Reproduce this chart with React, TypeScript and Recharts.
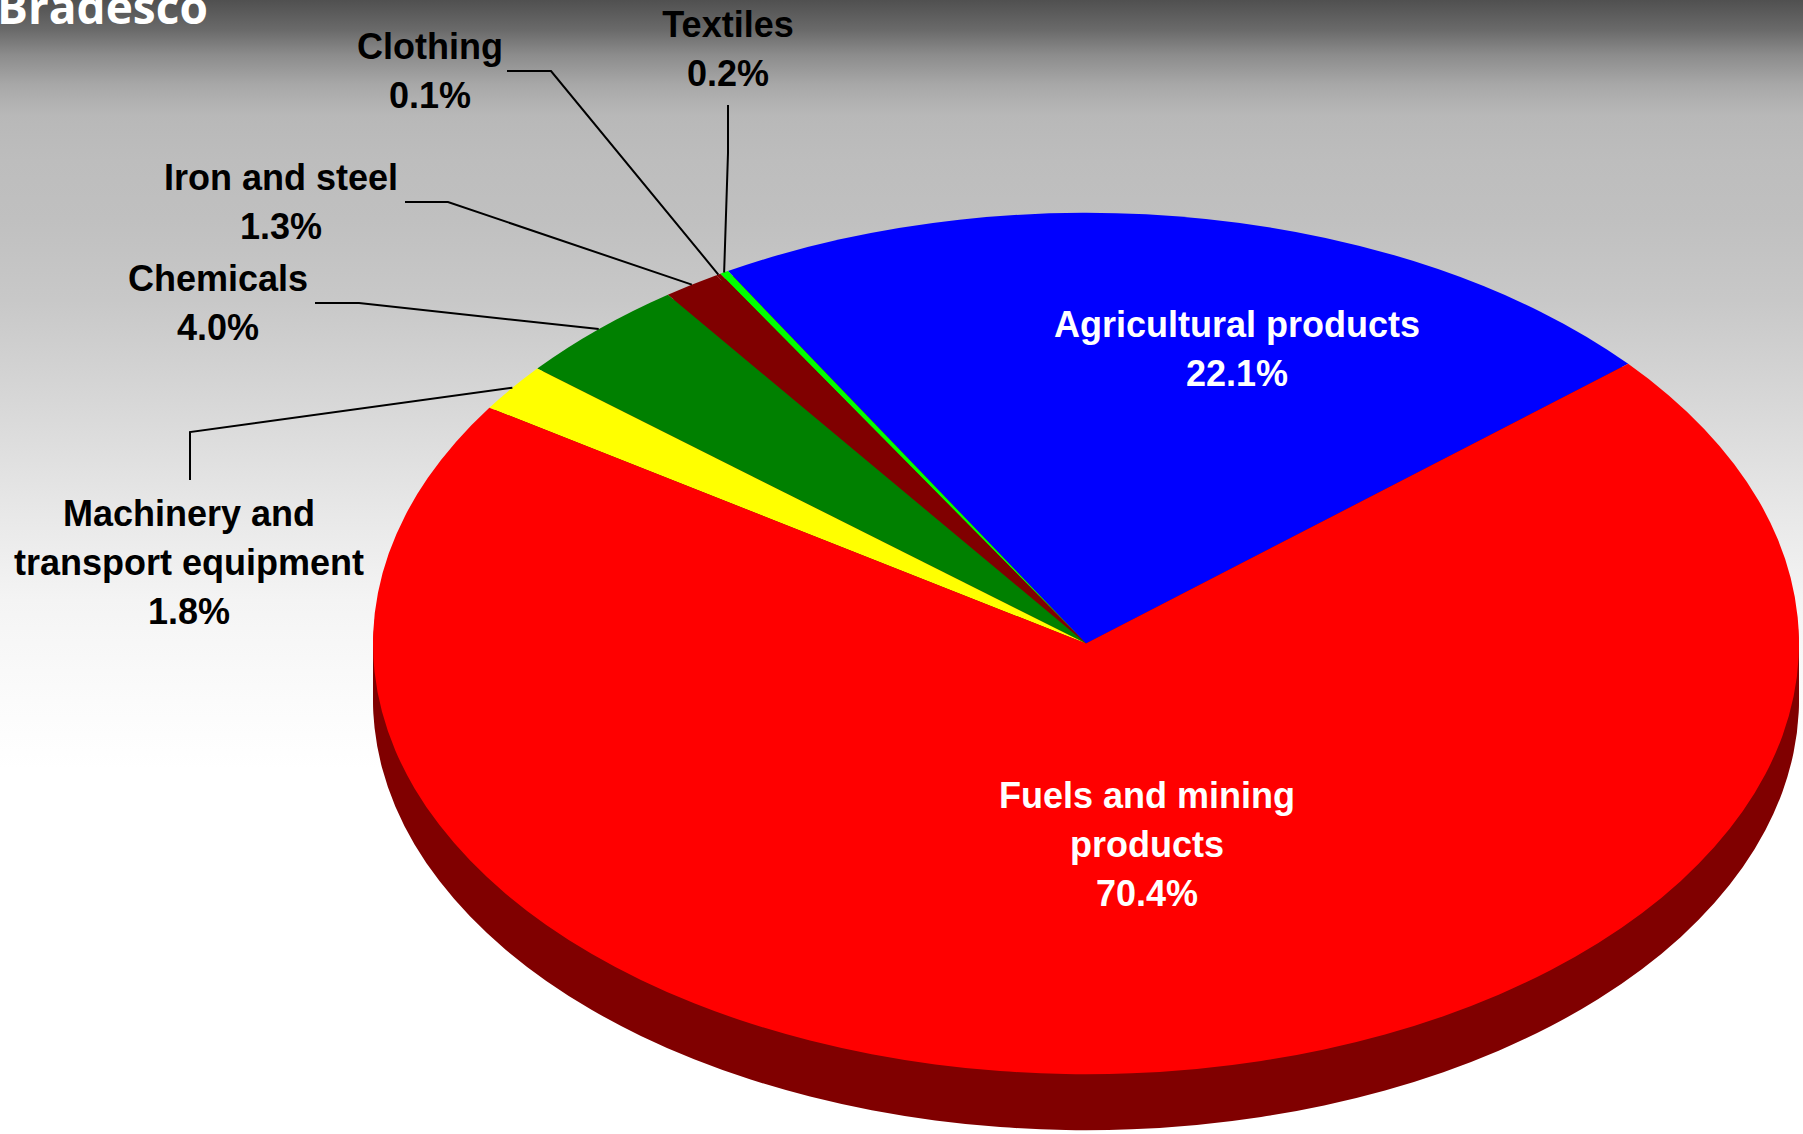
import { Pie, PieChart, Cell } from "recharts";

// export shares by product group
const categories = [
  "Agricultural products",
  "Textiles",
  "Clothing",
  "Iron and steel",
  "Chemicals",
  "Machinery and transport equipment",
  "Fuels and mining products",
];
const shares = [22.1, 0.2, 0.1, 1.3, 4.0, 1.8, 70.4];
const colors = ["#0000FF", "#00FF00", "#800000", "#800000", "#008000", "#FFFF00", "#FF0000"];

const data = categories.map((name, i) => ({ name, value: shares[i] }));

// chart geometry (screen px); the pie is squashed vertically to fake the 3D tilt
const W = 1803;
const H = 1134;
const S = 0.604;
const CX = 1086;
const CY = 643.5;
const R = 713;
const DEPTH = 56;
const WALL_STEPS = 8;

// hand-placed labels, like the original
type LabelLayout = {
  lines: string[];
  x: number;
  y: number;
  color: string;
  leader?: [number, number][];
};
const labelLayout: LabelLayout[] = [
  { lines: ["Agricultural products"], x: 1237, y: 337, color: "#fff" },
  { lines: ["Textiles"], x: 728, y: 37, color: "#000", leader: [[728, 105], [728, 153]] },
  { lines: ["Clothing"], x: 430, y: 59, color: "#000", leader: [[507, 71], [551, 71]] },
  { lines: ["Iron and steel"], x: 281, y: 190, color: "#000", leader: [[405, 202], [448, 202]] },
  { lines: ["Chemicals"], x: 218, y: 291, color: "#000", leader: [[315, 303], [359, 303]] },
  { lines: ["Machinery and", "transport equipment"], x: 189, y: 526, color: "#000", leader: [[190, 480], [190, 432]] },
  { lines: ["Fuels and mining", "products"], x: 1147, y: 808, color: "#fff" },
];
const LINE_GAP = 49;
const FONT = "'Liberation Sans', Arial, sans-serif";

const RAD = Math.PI / 180;

const renderLabel = (props: any) => {
  const { cx, cy, midAngle, outerRadius, index, value } = props;
  const lay = labelLayout[index];
  if (!lay) return null;
  // rim point in screen coords
  const rx = cx + outerRadius * Math.cos(-midAngle * RAD);
  const ry = (cy + outerRadius * Math.sin(-midAngle * RAD)) * S;
  const lines = [...lay.lines, `${value.toFixed(1)}%`];
  const pts = lay.leader ? [...lay.leader, [rx, ry]].map((p) => p.join(",")).join(" ") : null;

  return (
    <g transform={`scale(1 ${1 / S})`}>
      {pts && <polyline points={pts} fill="none" stroke="#000" strokeWidth={2} />}
      <text
        x={lay.x}
        y={lay.y}
        textAnchor="middle"
        fill={lay.color}
        fontFamily={FONT}
        fontWeight="bold"
        fontSize={36}
      >
        {lines.map((t, i) => (
          <tspan key={i} x={lay.x} y={lay.y + i * LINE_GAP}>
            {t}
          </tspan>
        ))}
      </text>
    </g>
  );
};

const pieAngles = { startAngle: 40.5, endAngle: 400.5 };

const App = () => {
  const walls = Array.from({ length: WALL_STEPS }, (_, i) => (CY + (DEPTH * (WALL_STEPS - i)) / WALL_STEPS) / S);

  return (
    <div
      style={{
        position: "absolute",
        left: 0,
        top: 0,
        width: W,
        height: H,
        overflow: "hidden",
        background:
          "linear-gradient(to bottom, #505050 0px, #6a6a6a 30px, #8c8c8c 55px, #a8a8a8 85px, #b8b8b8 115px, #bdbdbd 160px, #c0c0c0 220px, #c8c8c8 300px, #d7d7d7 400px, #e6e6e6 500px, #f4f4f4 600px, #fbfbfb 700px, #ffffff 770px)",
      }}
    >
      <div
        style={{
          position: "absolute",
          left: -3,
          top: -24,
          color: "#fff",
          fontFamily: "'Open Sans', sans-serif",
          fontWeight: 700,
          fontSize: 46,
          lineHeight: "60px",
          whiteSpace: "nowrap",
        }}
      >
        Bradesco
      </div>
      <div style={{ position: "absolute", left: 0, top: 0, transform: `scaleY(${S})`, transformOrigin: "0 0" }}>
        <PieChart width={W} height={Math.round(H / S)} margin={{ top: 0, right: 0, bottom: 0, left: 0 }}>
          {walls.map((wcy, i) => (
            <Pie
              key={`wall-${i}`}
              data={data}
              dataKey="value"
              cx={CX}
              cy={wcy}
              outerRadius={R}
              {...pieAngles}
              fill="#800000"
              stroke="none"
              isAnimationActive={false}
            />
          ))}
          <Pie
            data={data}
            dataKey="value"
            nameKey="name"
            cx={CX}
            cy={CY / S}
            outerRadius={R}
            {...pieAngles}
            stroke="none"
            label={renderLabel}
            labelLine={false}
            isAnimationActive={false}
          >
            {data.map((d, i) => (
              <Cell key={d.name} fill={colors[i]} />
            ))}
          </Pie>
        </PieChart>
      </div>
    </div>
  );
};

export default App;
